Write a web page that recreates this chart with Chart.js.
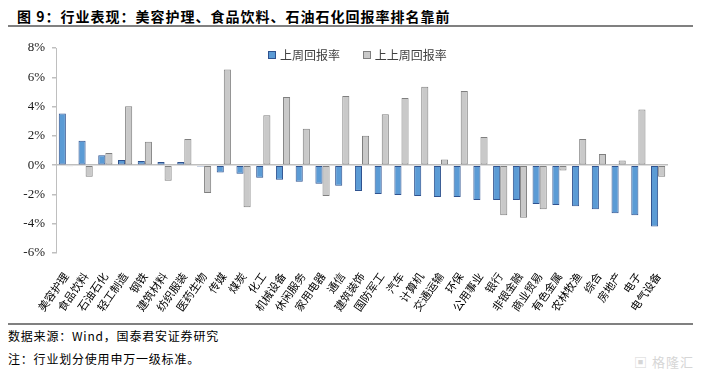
<!DOCTYPE html>
<html lang="zh">
<head>
    <meta charset="UTF-8">
    <title>行业表现</title>
    <script src="https://cdn.jsdelivr.net/npm/chart.js"></script>
    <style>
        body { margin: 0; width: 705px; height: 376px; background: #fff; position: relative; overflow: hidden;
               font-family: "Noto Sans CJK SC", sans-serif; color: #000; }
        .title { position: absolute; left: 17px; top: 6px; font-size: 14px; font-weight: bold; letter-spacing: 1px; }
        .rule { position: absolute; left: 8px; width: 685px; background: #808080; }
        .chart-box { position: absolute; left: 0; top: 30px; width: 705px; height: 288px; }
        .legend { position: absolute; top: 46px; left: 268px; font-size: 12px; color: #404040; white-space: nowrap; }
        .legend span.sw { display: inline-block; width: 6px; height: 6px; margin-right: 4px; vertical-align: 1px; }
        .legend .item { margin-right: 20px; }
        .note { position: absolute; left: 8px; font-size: 12px; letter-spacing: 0.8px; }
        .mark { position: absolute; left: 634px; top: 352px; font-size: 13px; color: #d6d6d6; letter-spacing: 1px; }
    </style>
</head>
<body>
    <div class="title">图 9：行业表现：美容护理、食品饮料、石油石化回报率排名靠前</div>
    <div class="rule" style="top:25px;height:2px;"></div>
    <div class="chart-box"><canvas id="chart"></canvas></div>
    <div class="legend">
        <span class="item"><span class="sw" style="background:#5B9BD5;border:1px solid #2F528F;"></span>上周回报率</span>
        <span class="item"><span class="sw" style="background:#C9C9C9;border:1px solid #7F7F7F;"></span>上上周回报率</span>
    </div>
    <div class="rule" style="top:323px;height:1.5px;"></div>
    <div class="note" style="top:327px;">数据来源：Wind，国泰君安证券研究</div>
    <div class="note" style="top:350px;">注：行业划分使用申万一级标准。</div>
    <div class="mark">▣ 格隆汇</div>

    <script>
        const industries = ['美容护理', '食品饮料', '石油石化', '轻工制造', '钢铁', '建筑材料', '纺织服装', '医药生物',
            '传媒', '煤炭', '化工', '机械设备', '休闲服务', '家用电器', '通信', '建筑装饰', '国防军工', '汽车',
            '计算机', '交通运输', '环保', '公用事业', '银行', '非银金融', '商业贸易', '有色金属', '农林牧渔',
            '综合', '房地产', '电子', '电气设备'];

        // 上周回报率 (%)
        const lastWeek = [3.52, 1.67, 0.67, 0.35, 0.28, 0.21, 0.21, -0.09, -0.51, -0.58, -0.86, -1.00, -1.13,
            -1.27, -1.41, -1.76, -1.97, -2.04, -2.10, -2.18, -2.18, -2.38, -2.38, -2.38, -2.66, -2.73, -2.80,
            -3.01, -3.29, -3.43, -4.19];

        // 上上周回报率 (%)
        const weekBefore = [-0.08, -0.79, 0.83, 4.03, 1.60, -1.06, 1.78, -1.90, 6.53, -2.87, 3.40, 4.65, 2.48,
            -2.10, 4.72, 2.01, 3.47, 4.58, 5.35, 0.39, 5.07, 1.92, -3.43, -3.59, -3.01, -0.37, 1.78, 0.76, 0.32,
            3.80, -0.79];

        const yTicks = { min: -6, max: 8, step: 2 };

        new Chart(document.getElementById('chart'), {
            type: 'bar',
            data: {
                labels: industries,
                datasets: [{
                    label: '上周回报率',
                    data: lastWeek,
                    backgroundColor: '#5B9BD5',
                    borderColor: '#2F528F',
                    borderWidth: 1,
                    borderSkipped: false,
                    barPercentage: 1,
                    categoryPercentage: 0.72
                }, {
                    label: '上上周回报率',
                    data: weekBefore,
                    backgroundColor: '#C9C9C9',
                    borderColor: '#7F7F7F',
                    borderWidth: 1,
                    borderSkipped: false,
                    barPercentage: 1,
                    categoryPercentage: 0.72
                }]
            },
            options: {
                responsive: true,
                maintainAspectRatio: false,
                animation: false,
                layout: { padding: { left: 0, right: 37, top: 18, bottom: 0 } },
                plugins: {
                    legend: { display: false },
                    tooltip: { enabled: false }
                },
                scales: {
                    x: {
                        grid: { display: false },
                        border: { display: false },
                        ticks: {
                            autoSkip: false,
                            minRotation: 55,
                            maxRotation: 55,
                            padding: 9,
                            color: '#000',
                            font: { family: '"Noto Sans CJK SC"', size: 11 }
                        },
                        afterFit: function (scale) { scale.height = 65; }
                    },
                    y: {
                        min: yTicks.min,
                        max: yTicks.max,
                        ticks: {
                            stepSize: yTicks.step,
                            padding: 7,
                            color: '#1a1a1a',
                            font: { family: '"Liberation Serif"', size: 13 },
                            callback: v => v + '%'
                        },
                        grid: {
                            color: ctx => ctx.tick && ctx.tick.value === 0 ? '#BFBFBF' : 'rgba(0,0,0,0)',
                            lineWidth: 1.5,
                            tickLength: 4,
                            tickColor: '#BFBFBF'
                        },
                        border: { color: '#BFBFBF', width: 1 },
                        afterFit: function (scale) { scale.width = 56; }
                    }
                }
            }
        });
    </script>
</body>
</html>
